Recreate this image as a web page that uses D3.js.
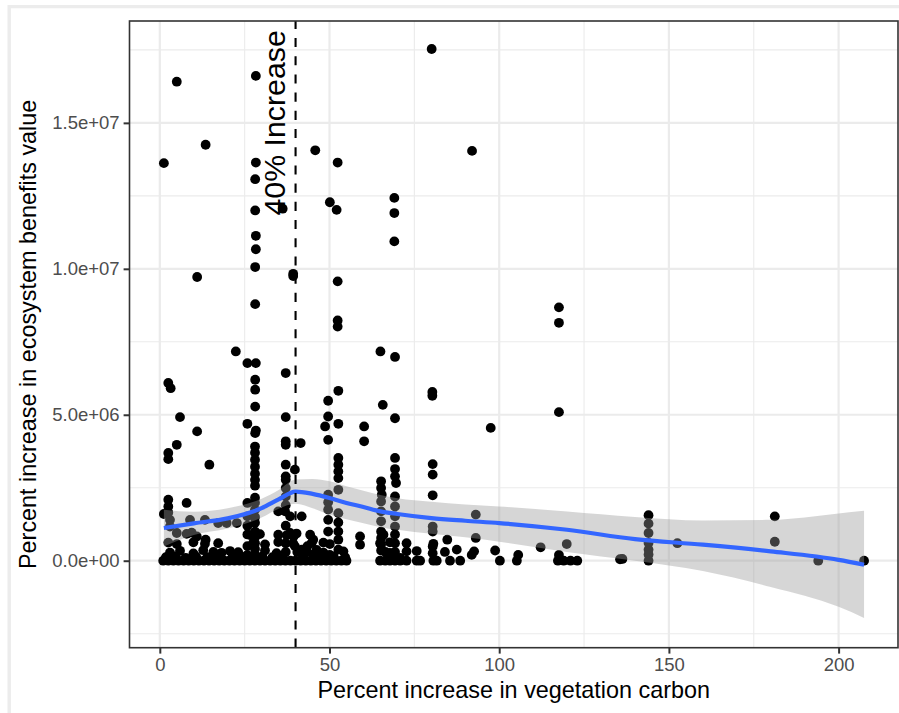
<!DOCTYPE html>
<html>
<head>
<meta charset="utf-8">
<script src="https://cdn.jsdelivr.net/npm/d3@7"></script>
<style>
  html, body { margin: 0; padding: 0; background: #ffffff; }
  svg { display: block; font-family: "Liberation Sans", Arial, Helvetica, sans-serif; }
</style>
</head>
<body>
<svg id="chart" width="899" height="713"></svg>
<script>
// ---------------- DATA ----------------
// Percent increase in vegetation carbon (x) for each observation
const carbonPct = [
  // high values
  5.0, 1.2, 13.5, 11.0, 28.3, 28.3, 28.1, 28.1, 36.2, 28.3, 28.3, 28.1, 28.1, 39.3, 39.3, 45.8, 52.4, 50.1, 52.1, 52.4,
  52.4, 52.4, 69.1, 69.1, 69.1, 80.1, 22.4, 65.0, 69.3, 92.0, 117.6, 117.6, 117.6, 80.3, 80.3, 97.5,
  // column near 28
  25.8, 28.3, 28.1, 28.1, 28.1, 25.8, 28.3, 28.1, 28.05, 28.05, 28.05, 28.05, 28.05, 28.05, 28.05, 28.05, 28.05, 28.05,
  28.05, 28.05, 28.05, 28.05, 28.05, 28.05, 28.05,
  25.8, 25.8, 25.8, 25.8, 25.8, 25.8,
  // column near 37
  37.1, 37.1, 37.1, 37.1, 41.5, 37.1, 39.8, 37.1, 37.1, 37.1, 37.1, 37.1, 37.1, 37.1, 37.1,
  // left group
  2.5, 3.2, 5.95, 11.0, 5.0, 2.5, 2.5, 14.6, 2.5, 2.5, 2.5, 7.9, 1.2,
  // 50-70 group
  52.6, 49.6, 65.7, 49.6, 48.7, 49.6, 52.6, 60.2, 60.2, 69.3,
  52.6, 52.6, 52.6, 52.6, 52.6, 69.3, 69.3, 69.3, 69.6, 65.2, 65.2, 65.4, 80.4, 80.4, 80.4,
  49.6, 49.6, 52.6, 52.6, 41.8, 65.2, 65.2, 65.2, 69.3, 69.3, 69.3, 69.3, 80.4, 80.4, 49.6, 49.6,
  // lower right
  93.1, 93.1, 80.4, 80.4, 72.7, 72.7, 70.8, 84.7, 87.5, 91.9, 92.6, 98.8, 105.6, 112.2, 119.9, 117.6,
  144, 144, 144, 144, 144, 144, 152.5, 136.3, 181.2, 181.2,
  // lower left
  3.0, 3.0, 5.0, 8.9, 9.4, 10.9, 13.3, 17.2, 19.7, 22.7, 13.5, 17.2,
  34.9, 36.9, 38.4, 34.9, 38.4, 39.4, 44.3, 44.7, 45.7, 50.1, 59.0, 59.0, 45.2, 52.6, 52.6, 41.8,
  52.6, 49.6, 65.2, 65.2, 65.2, 65.2, 66.5, 69.3, 69.3, 69.3, 40.5, 43.5, 39.8,
  // row near 0.3e6
  3.0, 5.95, 9.9, 12.8, 15.8, 18.2, 20.7, 23.1, 31.0, 34.4, 43.3, 46.2, 48.2, 54.1, 67.8, 75.7, 84.0,
  // row near 0.6e6
  2.5, 5.0, 9.9, 13.3, 27.5, 31.0, 34.9, 39.3, 48.2, 50.1, 64.9, 67.8, 80.6,
  // row near 0.9e6
  7.9, 26.6, 29.5, 37.4, 40.3, 65.9,
  // row at zero
  1.0, 2.5, 4.0, 5.5, 7.0, 8.5, 10.0, 11.5, 13.0, 14.5, 16.0, 17.5, 19.0, 20.5, 22.0, 23.5, 25.0, 26.5, 28.0, 29.5,
  31.0, 32.5, 34.0, 35.5, 37.0, 38.5, 40.0, 41.5, 43.0, 44.5, 46.0, 47.5, 49.0, 50.5, 52.0, 53.5, 55.0,
  64.9, 66.4, 67.8, 69.3, 70.8, 72.7, 75.7, 76.7, 80.6, 81.6, 85.5, 88.5, 100.2, 105.2,
  117.3, 119.0, 121.0, 123.0, 135.6, 144.0, 194.0, 207.5,
  // extra low values
  1.8, 4.6, 7.6, 10.7, 14.0, 17.0, 21.4, 24.2, 30.2, 33.2, 36.0, 42.2, 45.2, 47.0, 51.2, 54.6
];
// Percent increase in ecosystem benefits value (y), in millions
const benefitMillions = [
  16.41, 13.62, 14.25, 9.72, 16.61, 13.64, 13.07, 12.00, 12.06, 11.13, 10.67, 10.06, 8.79, 9.83, 9.75, 14.06, 13.64, 12.28, 12.02, 9.57,
  8.23, 8.02, 12.43, 11.91, 10.94, 17.53, 7.17, 7.17, 6.98, 14.04, 8.68, 8.15, 5.09, 5.78, 5.65, 4.55,
  6.77, 6.77, 6.20, 5.86, 5.28, 4.69, 4.46, 4.37, 3.91, 3.70, 3.46, 3.22, 2.98, 2.77, 2.57, 2.16, 1.99, 1.75,
  1.50, 1.30, 1.00, 0.80, 0.60, 0.40, 0.20,
  1.98, 1.52, 1.20, 0.90, 0.50, 0.20,
  6.43, 4.92, 4.09, 3.97, 4.03, 3.29, 3.12, 2.89, 2.77, 2.49, 2.20, 1.90, 1.20, 0.60, 0.30,
  6.09, 5.91, 4.92, 4.43, 3.97, 3.69, 3.48, 3.29, 2.09, 1.86, 1.65, 1.98, 1.60,
  5.82, 5.48, 5.34, 4.94, 4.60, 4.14, 4.69, 4.60, 4.09, 4.88,
  3.52, 3.29, 3.06, 2.83, 2.43, 3.52, 3.14, 2.89, 2.66, 2.72, 2.49, 2.26, 3.31, 2.95, 2.24,
  2.26, 1.75, 1.63, 1.31, 1.52, 2.03, 1.69, 1.35, 2.20, 1.86, 1.52, 1.17, 1.17, 1.00, 2.00, 1.40,
  1.58, 0.78, 0.49, 0.26, 0.60, 0.32, 0.10, 0.72, 0.38, 0.20, 0.32, 0.35, 0.20, 0.46, 0.57, 0.20,
  1.56, 1.27, 0.95, 0.61, 0.38, 0.21, 0.60, 0.06, 1.52, 0.65,
  1.40, 1.17, 0.95, 1.40, 0.96, 0.83, 1.40, 1.29, 1.29, 1.29, 0.72, 0.60,
  1.69, 1.69, 1.52, 0.89, 0.95, 0.83, 0.89, 0.60, 0.26, 0.20, 0.83, 0.55, 0.72, 0.72, 0.38, 0.38,
  1.00, 1.00, 1.00, 0.78, 0.55, 0.35, 0.30, 0.90, 0.60, 0.30, 0.30, 0.50, 0.50,
  0.28, 0.34, 0.25, 0.36, 0.30, 0.27, 0.33, 0.29, 0.35, 0.26, 0.31, 0.37, 0.28, 0.32, 0.27, 0.33, 0.30,
  0.62, 0.57, 0.63, 0.58, 0.61, 0.56, 0.64, 0.59, 0.62, 0.57, 0.60, 0.63, 0.58,
  0.92, 0.88, 0.91, 0.87, 0.93, 0.89,
  0, 0, 0, 0, 0, 0, 0, 0, 0, 0, 0, 0, 0, 0, 0, 0, 0, 0, 0, 0,
  0, 0, 0, 0, 0, 0, 0, 0, 0, 0, 0, 0, 0, 0, 0, 0, 0,
  0, 0, 0, 0, 0, 0, 0, 0, 0, 0, 0, 0, 0, 0,
  0, 0, 0, 0, 0.05, 0, 0, 0,
  0.12, 0.15, 0.10, 0.14, 0.12, 0.16, 0.11, 0.13, 0.15, 0.12, 0.10, 0.14, 0.13, 0.11, 0.15, 0.12
];

// LOESS smoother (millions)
const smoothX     = [1.2, 10, 20, 30, 35, 40, 45, 50, 55, 60, 65, 70, 80, 90, 100, 120, 140, 160, 180, 200, 207.5];
const smoothFit   = [1.12, 1.28, 1.45, 1.80, 2.10, 2.37, 2.29, 2.15, 1.98, 1.84, 1.69, 1.60, 1.46, 1.37, 1.29, 1.06, 0.74, 0.55, 0.32, 0.03, -0.14];
const smoothUpper = [1.75, 1.68, 1.80, 2.12, 2.42, 2.78, 2.80, 2.72, 2.55, 2.40, 2.25, 2.14, 2.02, 1.93, 1.86, 1.69, 1.50, 1.38, 1.40, 1.62, 1.71];
const smoothLower = [0.49, 0.88, 1.10, 1.48, 1.78, 1.95, 1.80, 1.58, 1.42, 1.28, 1.15, 1.06, 0.92, 0.80, 0.65, 0.30, 0.00, -0.35, -0.90, -1.58, -1.96];

// Axes
const xTicks = [0, 50, 100, 150, 200];
const xMinorTicks = [25, 75, 125, 175];
const yTicks = [0, 5, 10, 15];                 // millions
const yTickLabels = ["0.0e+00", "5.0e+06", "1.0e+07", "1.5e+07"];
const yMinorTicks = [-2.5, 2.5, 7.5, 12.5, 17.5];
const xDomain = [-8.93, 217.5];
const yDomain = [-2.98, 18.49];

const thresholdX = 40;
const annotationText = "40% Increase";
const annotationX = 33.6;
const annotationY = 15;
const xTitle = "Percent increase in vegetation carbon";
const yTitle = "Percent increase in ecosystem benefits value";

// ---------------- DRAW ----------------
const svg = d3.select("#chart");
const W = 899, H = 713;
const panel = { left: 129.5, right: 898, top: 21, bottom: 647.7 };

svg.append("rect").attr("x", 0).attr("y", 0).attr("width", W).attr("height", H).attr("fill", "#ffffff");
// outer light frame
svg.append("path")
  .attr("d", `M9.2,${H + 5} L9.2,6.6 L${W + 5},6.6`)
  .attr("fill", "none").attr("stroke", "#ececec").attr("stroke-width", 3.4);

const x = d3.scaleLinear().domain(xDomain).range([panel.left, panel.right]);
const y = d3.scaleLinear().domain(yDomain).range([panel.bottom, panel.top]);

const g = svg.append("g");
const clipId = "panelclip";
svg.append("clipPath").attr("id", clipId).append("rect")
  .attr("x", panel.left).attr("y", panel.top)
  .attr("width", panel.right - panel.left).attr("height", panel.bottom - panel.top);

// grid
const grid = g.append("g");
grid.selectAll("line.xminor").data(xMinorTicks).join("line")
  .attr("x1", d => x(d)).attr("x2", d => x(d)).attr("y1", panel.top).attr("y2", panel.bottom)
  .attr("stroke", "#ebebeb").attr("stroke-width", 1.1);
grid.selectAll("line.yminor").data(yMinorTicks).join("line")
  .attr("y1", d => y(d)).attr("y2", d => y(d)).attr("x1", panel.left).attr("x2", panel.right)
  .attr("stroke", "#ebebeb").attr("stroke-width", 1.1);
grid.selectAll("line.xmajor").data(xTicks).join("line")
  .attr("x1", d => x(d)).attr("x2", d => x(d)).attr("y1", panel.top).attr("y2", panel.bottom)
  .attr("stroke", "#ebebeb").attr("stroke-width", 2.2);
grid.selectAll("line.ymajor").data(yTicks).join("line")
  .attr("y1", d => y(d)).attr("y2", d => y(d)).attr("x1", panel.left).attr("x2", panel.right)
  .attr("stroke", "#ebebeb").attr("stroke-width", 2.2);

const plot = g.append("g").attr("clip-path", `url(#${clipId})`);

// points
const pts = carbonPct.map((c, i) => ({ c, v: benefitMillions[i] }));
plot.append("g").selectAll("circle").data(pts).join("circle")
  .attr("cx", d => x(d.c)).attr("cy", d => y(d.v)).attr("r", 4.9).attr("fill", "#000000");

// smoother ribbon + line
const smooth = smoothX.map((sx, i) => ({ sx, fit: smoothFit[i], lo: smoothLower[i], hi: smoothUpper[i] }));
const area = d3.area().x(d => x(d.sx)).y0(d => y(d.lo)).y1(d => y(d.hi)).curve(d3.curveMonotoneX);
plot.append("path").datum(smooth).attr("d", area).attr("fill", "#999999").attr("fill-opacity", 0.4);
const line = d3.line().x(d => x(d.sx)).y(d => y(d.fit)).curve(d3.curveMonotoneX);
plot.append("path").datum(smooth).attr("d", line).attr("fill", "none")
  .attr("stroke", "#3366FF").attr("stroke-width", 4.2);

// dashed vertical line
plot.append("line")
  .attr("x1", x(thresholdX)).attr("x2", x(thresholdX))
  .attr("y1", panel.bottom).attr("y2", panel.top)
  .attr("stroke", "#000000").attr("stroke-width", 2.1).attr("stroke-dasharray", "9.1,9.1");

// annotation
svg.append("text")
  .attr("transform", `translate(${x(annotationX)},${y(annotationY)}) rotate(-90)`)
  .attr("text-anchor", "middle").attr("dy", "0.36em")
  .attr("font-size", 30.3).attr("fill", "#000000")
  .text(annotationText);

// panel border
svg.append("rect")
  .attr("x", panel.left).attr("y", panel.top)
  .attr("width", panel.right - panel.left).attr("height", panel.bottom - panel.top)
  .attr("fill", "none").attr("stroke", "#333333").attr("stroke-width", 1.6);

// axes
const xAxis = d3.axisBottom(x).tickValues(xTicks).tickSize(5.9).tickPadding(4).tickFormat(d3.format("d"));
const xa = svg.append("g").attr("transform", `translate(0,${panel.bottom})`).call(xAxis);
xa.select(".domain").remove();
xa.selectAll(".tick line").attr("stroke", "#333333").attr("stroke-width", 2);
xa.selectAll(".tick text").attr("fill", "#4d4d4d").attr("font-size", 18.5)
  .attr("font-family", "Liberation Sans, Arial, sans-serif");

const yAxis = d3.axisLeft(y).tickValues(yTicks).tickSize(5.9).tickPadding(4)
  .tickFormat((d, i) => yTickLabels[i]);
const ya = svg.append("g").attr("transform", `translate(${panel.left},0)`).call(yAxis);
ya.select(".domain").remove();
ya.selectAll(".tick line").attr("stroke", "#333333").attr("stroke-width", 2);
ya.selectAll(".tick text").attr("fill", "#4d4d4d").attr("font-size", 18.5)
  .attr("font-family", "Liberation Sans, Arial, sans-serif");

// axis titles
svg.append("text")
  .attr("x", (panel.left + panel.right) / 2).attr("y", 698)
  .attr("text-anchor", "middle").attr("font-size", 23.4).attr("fill", "#000000")
  .text(xTitle);
svg.append("text")
  .attr("transform", `translate(35.5,${(panel.top + panel.bottom) / 2}) rotate(-90)`)
  .attr("text-anchor", "middle").attr("font-size", 23.4).attr("fill", "#000000")
  .text(yTitle);
</script>
</body>
</html>
